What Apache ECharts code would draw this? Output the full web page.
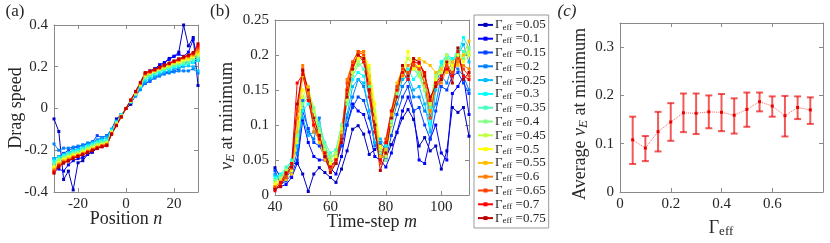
<!DOCTYPE html>
<html><head><meta charset="utf-8">
<script src="https://cdn.jsdelivr.net/npm/echarts@6/dist/echarts.min.js"></script>
<style>html,body{margin:0;padding:0;background:#fff}#c{width:830px;height:243px}</style>
</head><body><div id="c"></div>
<script>
// ---------- data ----------
const gammaNames = ['0.05','0.1','0.15','0.2','0.25','0.3','0.35','0.4','0.45','0.5','0.55','0.6','0.65','0.7','0.75'];
const positions = [-30,-28,-26,-24,-22,-20,-18,-16,-14,-12,-10,-8,-6,-4,-2,0,2,4,6,8,10,12,14,16,18,20,22,24,26,28,30];
const timeSteps = [40,42,44,46,48,50,52,54,56,58,60,62,64,66,68,70,72,74,76,78,80,82,84,86,88,90,92,94,96,98,100,102,104,106,108,110];

// panel (a): drag speed vs position n
const drag_005 = [-0.05,-0.11,-0.34,-0.30,-0.39,-0.26,-0.25,-0.22,-0.21,-0.19,-0.18,-0.16,-0.10,-0.05,-0.03,0.00,0.02,0.07,0.10,0.15,0.17,0.19,0.20,0.22,0.24,0.25,0.27,0.40,0.30,0.34,0.11];
const drag_010 = [-0.27,-0.29,-0.30,-0.27,-0.25,-0.24,-0.235,-0.22,-0.205,-0.19,-0.18,-0.165,-0.11,-0.07,-0.03,0.00,0.03,0.07,0.11,0.16,0.18,0.19,0.21,0.22,0.235,0.25,0.26,0.25,0.27,0.33,0.23];
const drag_015 = [-0.24,-0.23,-0.215,-0.20,-0.19,-0.185,-0.175,-0.17,-0.16,-0.13,-0.14,-0.13,-0.10,-0.06,-0.03,0.00,0.03,0.06,0.10,0.12,0.13,0.15,0.16,0.17,0.175,0.18,0.19,0.21,0.23,0.22,0.24];
const drag_020 = [-0.17,-0.20,-0.19,-0.19,-0.185,-0.18,-0.175,-0.165,-0.16,-0.15,-0.14,-0.13,-0.10,-0.06,-0.03,0.00,0.03,0.06,0.09,0.12,0.135,0.145,0.155,0.165,0.17,0.175,0.18,0.18,0.18,0.19,0.17];
const drag_025 = [-0.24,-0.23,-0.22,-0.21,-0.20,-0.195,-0.185,-0.175,-0.165,-0.155,-0.145,-0.14,-0.10,-0.065,-0.03,0.00,0.03,0.065,0.10,0.13,0.145,0.155,0.165,0.175,0.18,0.19,0.195,0.20,0.205,0.20,0.18];
const drag_030 = [-0.25,-0.235,-0.225,-0.215,-0.205,-0.20,-0.19,-0.18,-0.17,-0.16,-0.155,-0.15,-0.105,-0.065,-0.03,0.00,0.035,0.07,0.105,0.14,0.155,0.165,0.175,0.185,0.19,0.20,0.205,0.21,0.215,0.22,0.23];
const drag_035 = [-0.26,-0.24,-0.23,-0.22,-0.21,-0.205,-0.195,-0.185,-0.175,-0.165,-0.16,-0.155,-0.11,-0.07,-0.035,0.00,0.035,0.07,0.11,0.145,0.16,0.17,0.18,0.19,0.195,0.205,0.21,0.215,0.22,0.23,0.24];
const drag_040 = [-0.27,-0.245,-0.235,-0.225,-0.215,-0.21,-0.20,-0.19,-0.18,-0.17,-0.165,-0.16,-0.11,-0.07,-0.035,0.00,0.035,0.07,0.11,0.15,0.165,0.175,0.185,0.19,0.20,0.21,0.215,0.22,0.23,0.24,0.25];
const drag_045 = [-0.28,-0.25,-0.24,-0.23,-0.22,-0.215,-0.205,-0.195,-0.185,-0.175,-0.17,-0.165,-0.115,-0.075,-0.035,0.00,0.035,0.075,0.115,0.155,0.17,0.18,0.19,0.195,0.205,0.215,0.22,0.23,0.235,0.245,0.26];
const drag_050 = [-0.28,-0.26,-0.245,-0.235,-0.225,-0.22,-0.21,-0.20,-0.19,-0.18,-0.175,-0.165,-0.115,-0.075,-0.04,0.00,0.04,0.075,0.115,0.16,0.17,0.18,0.19,0.20,0.21,0.22,0.225,0.235,0.24,0.25,0.265];
const drag_055 = [-0.29,-0.265,-0.25,-0.24,-0.23,-0.222,-0.213,-0.203,-0.193,-0.183,-0.177,-0.17,-0.118,-0.078,-0.04,0.00,0.04,0.078,0.118,0.162,0.172,0.182,0.192,0.202,0.212,0.222,0.23,0.24,0.245,0.255,0.27];
const drag_060 = [-0.295,-0.27,-0.255,-0.245,-0.233,-0.225,-0.216,-0.206,-0.196,-0.186,-0.178,-0.172,-0.12,-0.08,-0.04,0.00,0.04,0.08,0.12,0.165,0.175,0.184,0.194,0.204,0.214,0.224,0.232,0.242,0.25,0.26,0.28];
const drag_065 = [-0.30,-0.272,-0.258,-0.248,-0.236,-0.227,-0.218,-0.208,-0.198,-0.188,-0.18,-0.174,-0.12,-0.08,-0.04,0.00,0.04,0.08,0.122,0.167,0.176,0.185,0.196,0.206,0.215,0.225,0.234,0.244,0.252,0.262,0.29];
const drag_070 = [-0.305,-0.275,-0.26,-0.25,-0.238,-0.229,-0.22,-0.21,-0.20,-0.19,-0.182,-0.176,-0.122,-0.082,-0.04,0.00,0.04,0.082,0.124,0.17,0.178,0.186,0.197,0.207,0.216,0.226,0.236,0.246,0.254,0.265,0.30];
const drag_075 = [-0.31,-0.28,-0.262,-0.252,-0.24,-0.23,-0.222,-0.212,-0.202,-0.192,-0.184,-0.178,-0.124,-0.082,-0.04,0.00,0.04,0.082,0.125,0.172,0.18,0.188,0.198,0.208,0.218,0.228,0.238,0.248,0.256,0.268,0.31];

// panel (b): v_E at minimum vs time-step m
const vE_005 = [0.039,0.025,0.034,0.044,0.046,0.03,0.005,0.03,0.039,0.032,0.025,0.018,0.037,0.063,0.094,0.099,0.087,0.058,0.065,0.072,0.053,0.072,0.089,0.11,0.122,0.108,0.07,0.082,0.063,0.07,0.037,0.063,0.125,0.118,0.125,0.084];
const vE_010 = [0.01,0.012,0.015,0.025,0.045,0.107,0.075,0.055,0.05,0.05,0.038,0.03,0.055,0.1,0.13,0.12,0.115,0.09,0.055,0.05,0.04,0.06,0.09,0.12,0.14,0.12,0.05,0.045,0.08,0.1,0.06,0.05,0.145,0.155,0.17,0.115];
const vE_015 = [0.035,0.015,0.02,0.03,0.05,0.12,0.095,0.075,0.07,0.055,0.045,0.045,0.07,0.1,0.125,0.14,0.135,0.11,0.075,0.06,0.05,0.085,0.115,0.14,0.155,0.12,0.125,0.1,0.08,0.12,0.155,0.15,0.17,0.175,0.16,0.145];
const vE_020 = [0.03,0.02,0.025,0.035,0.06,0.135,0.09,0.08,0.11,0.06,0.04,0.05,0.075,0.11,0.14,0.165,0.155,0.12,0.07,0.075,0.065,0.1,0.13,0.155,0.165,0.14,0.14,0.12,0.11,0.13,0.17,0.16,0.185,0.18,0.17,0.15];
const vE_025 = [0.028,0.025,0.03,0.04,0.07,0.11,0.085,0.09,0.1,0.065,0.045,0.055,0.08,0.115,0.155,0.165,0.16,0.12,0.075,0.08,0.07,0.11,0.14,0.165,0.17,0.15,0.155,0.13,0.09,0.15,0.19,0.175,0.19,0.2,0.215,0.19];
const vE_030 = [0.025,0.03,0.035,0.05,0.08,0.12,0.13,0.11,0.095,0.07,0.05,0.06,0.09,0.13,0.165,0.175,0.17,0.14,0.09,0.065,0.07,0.12,0.155,0.17,0.18,0.165,0.175,0.15,0.1,0.165,0.19,0.2,0.195,0.2,0.225,0.21];
const vE_035 = [0.022,0.028,0.04,0.048,0.09,0.13,0.14,0.12,0.1,0.075,0.06,0.065,0.1,0.135,0.175,0.19,0.18,0.155,0.1,0.065,0.06,0.11,0.15,0.185,0.175,0.18,0.17,0.15,0.125,0.17,0.185,0.2,0.19,0.21,0.205,0.2];
const vE_040 = [0.02,0.025,0.035,0.045,0.085,0.13,0.15,0.125,0.095,0.07,0.055,0.06,0.1,0.13,0.17,0.185,0.19,0.17,0.11,0.06,0.05,0.105,0.145,0.18,0.17,0.19,0.175,0.16,0.13,0.175,0.18,0.195,0.19,0.205,0.195,0.21];
const vE_045 = [0.018,0.022,0.035,0.04,0.075,0.14,0.155,0.12,0.09,0.065,0.05,0.06,0.095,0.135,0.175,0.19,0.195,0.18,0.12,0.065,0.055,0.1,0.14,0.175,0.195,0.185,0.17,0.15,0.13,0.17,0.175,0.2,0.18,0.195,0.2,0.205];
const vE_050 = [0.015,0.02,0.03,0.035,0.08,0.15,0.15,0.11,0.085,0.06,0.045,0.055,0.09,0.14,0.18,0.195,0.2,0.185,0.13,0.07,0.06,0.11,0.15,0.17,0.205,0.18,0.185,0.16,0.12,0.165,0.18,0.19,0.185,0.2,0.19,0.2];
const vE_055 = [0.012,0.02,0.022,0.03,0.09,0.17,0.155,0.1,0.075,0.05,0.04,0.05,0.09,0.15,0.185,0.2,0.205,0.17,0.11,0.055,0.065,0.12,0.16,0.18,0.175,0.19,0.195,0.19,0.185,0.175,0.18,0.175,0.19,0.185,0.2,0.22];
const vE_060 = [0.012,0.018,0.028,0.038,0.11,0.185,0.145,0.09,0.08,0.055,0.035,0.045,0.08,0.165,0.19,0.205,0.205,0.16,0.1,0.05,0.06,0.115,0.15,0.17,0.185,0.19,0.18,0.17,0.12,0.155,0.16,0.18,0.175,0.19,0.185,0.18];
const vE_065 = [0.01,0.015,0.025,0.04,0.12,0.18,0.14,0.1,0.085,0.06,0.035,0.05,0.085,0.16,0.19,0.205,0.2,0.15,0.09,0.045,0.08,0.12,0.155,0.18,0.175,0.185,0.18,0.16,0.11,0.16,0.165,0.185,0.175,0.195,0.18,0.17];
const vE_070 = [0.006,0.018,0.032,0.045,0.16,0.172,0.135,0.1,0.08,0.06,0.04,0.05,0.08,0.15,0.185,0.2,0.19,0.14,0.09,0.05,0.075,0.12,0.15,0.175,0.165,0.19,0.188,0.175,0.135,0.16,0.17,0.18,0.17,0.205,0.17,0.165];
const vE_075 = [0.008,0.012,0.03,0.04,0.13,0.178,0.15,0.11,0.085,0.055,0.032,0.045,0.075,0.14,0.18,0.2,0.195,0.15,0.1,0.035,0.06,0.11,0.14,0.185,0.17,0.195,0.19,0.17,0.14,0.155,0.165,0.19,0.16,0.21,0.165,0.175];

// panel (c): average v_E at minimum with error bars
const gammaC = [0.05,0.1,0.15,0.2,0.25,0.3,0.35,0.4,0.45,0.5,0.55,0.6,0.65,0.7,0.75];
const meanC  = [0.108,0.091,0.125,0.145,0.164,0.163,0.166,0.165,0.159,0.171,0.187,0.178,0.158,0.175,0.17];
const lowC   = [0.058,0.064,0.084,0.106,0.124,0.12,0.132,0.126,0.121,0.135,0.167,0.156,0.115,0.151,0.141];
const highC  = [0.156,0.116,0.166,0.184,0.204,0.204,0.2,0.203,0.194,0.206,0.206,0.198,0.199,0.198,0.196];

// tick labels
const ticksAx = [-20,0,20], ticksAy = [-0.4,-0.2,0,0.2,0.4];
const ticksBx = [40,60,80,100], ticksBy = [0,0.05,0.1,0.15,0.2,0.25];
const ticksCx = [0,0.2,0.4,0.6], ticksCy = [0,0.1,0.2,0.3];

// ---------- styling ----------
const jet = ['#0000bf','#0000ff','#0040ff','#0080ff','#00bfff','#00ffff','#40ffbf','#80ff80','#bfff40','#ffff00','#ffbf00','#ff8000','#ff4000','#ff0000','#bf0000'];
const dragAll = [drag_005,drag_010,drag_015,drag_020,drag_025,drag_030,drag_035,drag_040,drag_045,drag_050,drag_055,drag_060,drag_065,drag_070,drag_075];
const vEAll = [vE_005,vE_010,vE_015,vE_020,vE_025,vE_030,vE_035,vE_040,vE_045,vE_050,vE_055,vE_060,vE_065,vE_070,vE_075];

const FONT = 'Liberation Serif';
const TXT = '#262626', AXC = '#8a8a8a';

function axis(kind, grid, pos, min, max, ticks, showLabel){
  return {
    type:'value', gridIndex:grid, position:pos, min:min, max:max,
    axisLine:{show:true, onZero:false, lineStyle:{color:AXC, width:1}},
    axisTick:{show:true, inside:true, length:4, customValues:ticks, lineStyle:{color:AXC}},
    axisLabel:{show:showLabel, customValues:ticks, color:TXT, fontFamily:FONT, fontSize:15, margin:kind==='x'?5:6},
    splitLine:{show:false}
  };
}

const series = [];
dragAll.forEach((arr,k)=>{
  series.push({name:gammaNames[k], type:'line', xAxisIndex:0, yAxisIndex:0,
    data:positions.map((p,i)=>[p,arr[i]]), symbol:'rect', symbolSize:3,
    lineStyle:{width:1, color:jet[k]}, itemStyle:{color:jet[k]}, emphasis:{disabled:true}, animation:false});
});
vEAll.forEach((arr,k)=>{
  series.push({name:gammaNames[k], type:'line', xAxisIndex:2, yAxisIndex:2,
    data:timeSteps.map((m,i)=>[m,arr[i]]), symbol:'rect', symbolSize:3,
    lineStyle:{width:1, color:jet[k]}, itemStyle:{color:jet[k]}, emphasis:{disabled:true}, animation:false});
});
series.push({type:'custom', xAxisIndex:4, yAxisIndex:4, animation:false,
  data:gammaC.map((g,i)=>[g,lowC[i],highC[i]]),
  renderItem:function(params, api){
    const x=api.value(0), lo=api.coord([x,api.value(1)]), hi=api.coord([x,api.value(2)]);
    const w=3.5, st={stroke:'rgba(235,0,0,0.65)', lineWidth:2};
    return {type:'group', children:[
      {type:'line', shape:{x1:lo[0],y1:lo[1],x2:hi[0],y2:hi[1]}, style:st},
      {type:'line', shape:{x1:lo[0]-w,y1:lo[1],x2:lo[0]+w,y2:lo[1]}, style:st},
      {type:'line', shape:{x1:hi[0]-w,y1:hi[1],x2:hi[0]+w,y2:hi[1]}, style:st}
    ]};
  }});
series.push({type:'line', xAxisIndex:4, yAxisIndex:4, animation:false,
  data:gammaC.map((g,i)=>[g,meanC[i]]), symbol:'rect', symbolSize:3,
  lineStyle:{width:1, type:'dotted', color:'#ff6060'}, itemStyle:{color:'#ee0000'}, emphasis:{disabled:true}});

function gtext(x,y,text,rich,rot){
  return {type:'text', x:x, y:y, rotation:rot||0, silent:true,
    style:{text:text, rich:rich, align:'center', verticalAlign:'middle', fill:TXT, fontFamily:FONT, fontSize:18}};
}
const richMain = {
  r:{fontFamily:FONT, fontSize:18, lineHeight:20, fill:TXT},
  i:{fontFamily:FONT, fontSize:18, lineHeight:20, fontStyle:'italic', fill:TXT},
  s:{fontFamily:FONT, fontSize:13, lineHeight:13, fontStyle:'italic', verticalAlign:'bottom', fill:TXT},
  e:{fontFamily:FONT, fontSize:13, lineHeight:13, verticalAlign:'bottom', fill:TXT},
  p:{fontFamily:FONT, fontSize:17, lineHeight:20, fill:TXT},
  pi:{fontFamily:FONT, fontSize:17, lineHeight:20, fontStyle:'italic', fill:TXT}
};

const option = {
  animation:false,
  backgroundColor:'#fff',
  textStyle:{fontFamily:FONT},
  grid:[
    {left:54, top:25, width:144, height:167},
    {left:275, top:20, width:194, height:175},
    {left:620, top:23, width:203, height:169}
  ],
  xAxis:[
    axis('x',0,'bottom',-30,30,ticksAx,true), axis('x',0,'top',-30,30,ticksAx,false),
    axis('x',1,'bottom',40,110,ticksBx,true), axis('x',1,'top',40,110,ticksBx,false),
    axis('x',2,'bottom',0,0.8,ticksCx,true), axis('x',2,'top',0,0.8,ticksCx,false)
  ],
  yAxis:[
    axis('y',0,'left',-0.4,0.4,ticksAy,true), axis('y',0,'right',-0.4,0.4,ticksAy,false),
    axis('y',1,'left',0,0.25,ticksBy,true), axis('y',1,'right',0,0.25,ticksBy,false),
    axis('y',2,'left',0,0.35,ticksCy,true), axis('y',2,'right',0,0.35,ticksCy,false)
  ],
  legend:{
    data:gammaNames, orient:'vertical', left:474, top:15,
    padding:[3,3,3,3], itemGap:0, itemWidth:15, itemHeight:5,
    borderColor:'#9a9a9a', borderWidth:1, borderRadius:0, selectedMode:false,
    formatter:n=>'{g|Γ}{e|eff}{t| =' + n + '}',
    textStyle:{fontFamily:FONT, fontSize:13, color:TXT, lineHeight:13.8, padding:[0,0,0,-3],
      rich:{
        g:{fontFamily:FONT, fontSize:13, lineHeight:13.8, color:TXT},
        e:{fontFamily:FONT, fontSize:9, lineHeight:10, verticalAlign:'bottom', color:TXT},
        t:{fontFamily:FONT, fontSize:13, lineHeight:13.8, color:TXT}
      }}
  },
  graphic:[
    gtext(15,12,'{p|(a)}',richMain),
    gtext(220,12,'{p|(b)}',richMain),
    gtext(567,12,'{pi|(c)}',richMain),
    gtext(16,108,'{r|Drag speed}',richMain,Math.PI/2),
    gtext(126,219,'{r|Position }{i|n}',richMain),
    gtext(227,116,'{i|v}{s|E}{r| at minimum}',richMain,Math.PI/2),
    gtext(372,222,'{r|Time-step }{i|m}',richMain),
    gtext(580,114,'{r|Average }{i|v}{s|E}{r| at minimum}',richMain,Math.PI/2),
    gtext(721,228,'{r|Γ}{e|eff}',richMain)
  ],
  series:series
};
const chart = echarts.init(document.getElementById('c'), null, {renderer:'canvas'});
chart.setOption(option);
</script></body></html>
